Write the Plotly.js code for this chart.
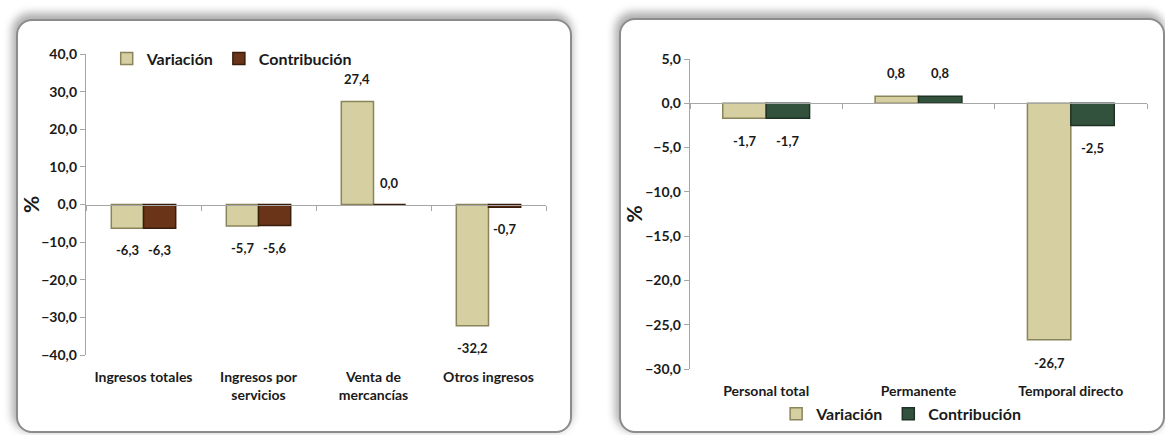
<!DOCTYPE html>
<html>
<head>
<meta charset="utf-8">
<script src="https://cdn.plot.ly/plotly-3.0.1.min.js"></script>
<style>
  html, body { margin: 0; padding: 0; background: #ffffff; width: 1165px; height: 435px; overflow: hidden; }
  .panel {
    position: absolute;
    background: #ffffff;
    border: 2px solid #8c8c8c;
    border-radius: 16px;
    box-shadow: -2px -4px 9px 2px rgba(0,0,0,0.32);
    box-sizing: border-box;
    overflow: hidden;
  }
  #p1 { left: 16px; top: 19px; width: 556px; height: 414px; }
  #p2 { left: 619px; top: 18px; width: 546px; height: 415px; }
  .chart { position: absolute; left: 0; top: 0; }
</style>
</head>
<body>
<div class="panel" id="p1"><div class="chart" id="chart1"></div></div>
<div class="panel" id="p2"><div class="chart" id="chart2"></div></div>
<script>
// ---- Data: left chart (ingresos) ----
const categoriasIngresos = ["Ingresos totales", "Ingresos por<br>servicios", "Venta de<br>mercancías", "Otros ingresos"];
const variacionIngresos = [-6.3, -5.7, 27.4, -32.2];
const contribucionIngresos = [-6.3, -5.6, 0.0, -0.7];

// ---- Data: right chart (personal) ----
const categoriasPersonal = ["Personal total", "Permanente", "Temporal directo"];
const variacionPersonal = [-1.7, 0.8, -26.7];
const contribucionPersonal = [-1.7, 0.8, -2.5];

const seriesNames = ["Variación", "Contribución"];

const FONT = "Lato, 'DejaVu Sans Condensed', sans-serif";
const TXT = "#1a1a1a";
const AX = "#a6a6a6";

function buildChart(divId, opts) {
  const cats = opts.categories;
  const bargap = opts.bargap;
  const traces = [
    {
      type: "bar", name: seriesNames[0], x: cats, y: opts.variacion,
      marker: { color: "#d5cfa2", line: { color: "#8a845a", width: 1.5 } },
      hoverinfo: "skip"
    },
    {
      type: "bar", name: seriesNames[1], x: cats, y: opts.contribucion,
      marker: { color: opts.contribColor, line: { color: opts.contribLine, width: 1.5 } },
      hoverinfo: "skip"
    },
    {
      // helper trace for the category axis drawn at zero
      type: "scatter", mode: "markers", x: cats, y: opts.variacion,
      xaxis: "x2", yaxis: "y", marker: { opacity: 0 }, showlegend: false, hoverinfo: "skip"
    }
  ];

  // data labels from the data arrays
  const annotations = [];
  const off = (1 - bargap) / 4;
  [opts.variacion, opts.contribucion].forEach((vals, s) => {
    vals.forEach((v, i) => {
      annotations.push({
        xref: "x", yref: "y",
        x: i + (s === 0 ? -off : off), y: v,
        text: v.toFixed(1).replace(".", ","),
        showarrow: false, yanchor: "middle", xanchor: "center",
        yshift: v >= 0 ? opts.labelShift : -opts.labelShift,
        font: { family: FONT, size: 13, color: TXT, weight: "bold" }
      });
    });
  });

  const n = cats.length;
  const zeroPos = (0 - opts.yrange[0]) / (opts.yrange[1] - opts.yrange[0]);

  const layout = {
    width: opts.width, height: opts.height,
    margin: Object.assign({ autoexpand: false }, opts.margin),
    separators: ",.",
    barmode: "group", bargap: bargap, bargroupgap: 0,
    paper_bgcolor: "rgba(0,0,0,0)", plot_bgcolor: "rgba(0,0,0,0)",
    font: { family: FONT, color: TXT, size: 13, weight: "bold" },
    showlegend: true,
    legend: Object.assign({
      orientation: "h", bgcolor: "rgba(0,0,0,0)",
      font: { family: FONT, size: 16, color: TXT, weight: "bold" },
      itemwidth: 30, tracegroupgap: 0, traceorder: "normal"
    }, opts.legend),
    xaxis: {
      type: "category", range: [-0.5, n - 0.5], showline: false, ticks: "",
      showgrid: false, zeroline: false, ticklabelstandoff: opts.catStandoff,
      tickfont: { family: FONT, size: 14, color: TXT, weight: "bold" }, fixedrange: true
    },
    xaxis2: {
      type: "category", overlaying: "x", anchor: "free", position: zeroPos,
      range: [-0.5, n - 0.5], showline: true, linecolor: AX, linewidth: 1.2,
      ticks: "outside", tickson: "boundaries", ticklen: 5, tickcolor: AX,
      showticklabels: false, showgrid: false, zeroline: false, fixedrange: true
    },
    yaxis: {
      range: opts.yrange, dtick: opts.dtick, tickformat: ".1f",
      showline: true, linecolor: AX, linewidth: 1.2,
      ticks: "outside", ticklen: 5, tickcolor: AX,
      showgrid: false, zeroline: false, fixedrange: true,
      tickfont: { family: FONT, size: 14, color: TXT, weight: "bold" },
      title: { text: "%", font: { family: FONT, size: 21, color: TXT, weight: "bold" }, standoff: opts.titleStandoff }
    },
    annotations: annotations
  };

  Plotly.newPlot(divId, traces, layout, { displayModeBar: false, staticPlot: true });
}

buildChart("chart1", {
  categories: categoriasIngresos,
  variacion: variacionIngresos,
  contribucion: contribucionIngresos,
  contribColor: "#6a3419", contribLine: "#3a1c0b",
  bargap: 0.44,
  yrange: [-40, 40], dtick: 10,
  width: 552, height: 410,
  margin: { l: 68, r: 24, t: 33, b: 76, pad: 0 },
  legend: { x: 0.045, xanchor: "left", y: 0.985, yanchor: "middle" },
  catStandoff: 12, titleStandoff: 8, labelShift: 22
});

buildChart("chart2", {
  categories: categoriasPersonal,
  variacion: variacionPersonal,
  contribucion: contribucionPersonal,
  contribColor: "#33523d", contribLine: "#1d3224",
  bargap: 0.43,
  yrange: [-30, 5], dtick: 5,
  width: 542, height: 411,
  margin: { l: 69, r: 16, t: 39, b: 62, pad: 0 },
  legend: { x: 0.462, xanchor: "center", y: -0.145, yanchor: "middle" },
  catStandoff: 12, titleStandoff: 2, labelShift: 23
});
</script>
</body>
</html>
